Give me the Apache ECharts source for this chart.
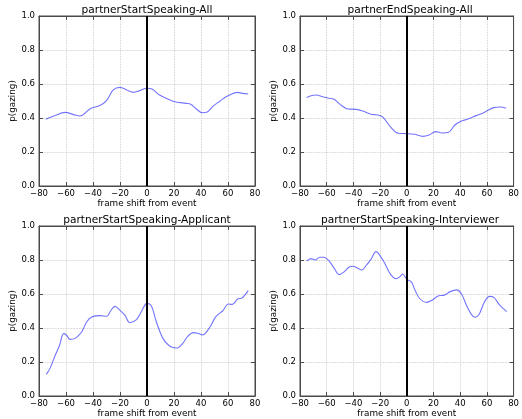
<!DOCTYPE html>
<html>
<head>
<meta charset="utf-8">
<script src="https://cdn.jsdelivr.net/npm/echarts@6/dist/echarts.min.js"></script>
<style>html,body{margin:0;padding:0;background:#fff}#c{width:522px;height:419px}</style>
</head>
<body>
<div id="c"></div>
<script>
var titles = ['partnerStartSpeaking-All','partnerEndSpeaking-All','partnerStartSpeaking-Applicant','partnerStartSpeaking-Interviewer'];
var xTicks = [-80,-60,-40,-20,0,20,40,60,80];
var yTicks = [0.0,0.2,0.4,0.6,0.8,1.0];

var x1 = [-75,-69,-60.5,-54.4,-49.5,-42,-35,-30,-25,-20,-15,-10,-5.4,0,4,9.3,15.4,21.6,29,32.6,36,41,45,48.5,53.4,59.6,67,70.6,75];
var y1 = [0.392,0.412,0.433,0.42,0.412,0.455,0.473,0.502,0.565,0.58,0.565,0.551,0.561,0.575,0.569,0.535,0.512,0.494,0.486,0.48,0.457,0.431,0.437,0.467,0.496,0.529,0.551,0.545,0.541];

var x2 = [-75,-71.8,-68,-63,-58.4,-54.8,-50,-43.9,-37.8,-33,-26.9,-22,-17.7,-12.4,-6.3,0,5.8,11.9,16.7,21.6,26.4,31.3,36,41,45.8,51.9,58,65,70,74.4];
var y2 = [0.52,0.531,0.535,0.525,0.516,0.512,0.48,0.453,0.451,0.441,0.422,0.418,0.404,0.349,0.31,0.308,0.304,0.292,0.3,0.32,0.312,0.316,0.359,0.382,0.394,0.414,0.433,0.461,0.465,0.457];

var x3 = [-74.5,-71.6,-67.9,-64.7,-61.8,-59.8,-56.9,-53.2,-48.3,-44.6,-40.9,-34.8,-29.9,-27,-23.8,-20,-16.4,-12.7,-7.8,-4.2,0,3.2,6.9,11.8,16.7,22,26.5,30,34.3,37.5,41,46,51,56,60.3,63.2,67,70.6,75];
var y3 = [0.127,0.167,0.241,0.3,0.367,0.359,0.333,0.339,0.378,0.437,0.465,0.473,0.469,0.5,0.527,0.504,0.476,0.431,0.449,0.496,0.545,0.531,0.437,0.339,0.294,0.282,0.31,0.349,0.373,0.369,0.359,0.398,0.467,0.5,0.541,0.539,0.569,0.578,0.62];

var x4 = [-75,-71.8,-68.6,-65.2,-62,-58.4,-54.8,-50.7,-47.5,-43.4,-40.2,-36.6,-33.7,-30.5,-26.9,-23,-19.6,-16.7,-12.4,-8,-5.1,-3.2,0,3.4,5.8,9.5,14.8,19.2,24,27.6,32.5,37.3,41,44.6,48.2,51.2,54.3,57.9,62,65.2,69.6,74.9];
var y4 = [0.794,0.808,0.8,0.816,0.816,0.796,0.757,0.714,0.727,0.757,0.763,0.751,0.741,0.767,0.804,0.849,0.82,0.784,0.718,0.69,0.702,0.718,0.686,0.671,0.629,0.575,0.551,0.565,0.59,0.592,0.614,0.624,0.6,0.535,0.482,0.463,0.482,0.549,0.586,0.58,0.535,0.496];

var XS = [x1,x2,x3,x4], YS = [y1,y2,y3,y4];
var FONT = 'DejaVu Sans';
var AX = '#4a4a4a';
var grids = [
  {left:39, top:16, width:216, height:170},
  {left:300, top:16, width:220, height:170},
  {left:39, top:226, width:216, height:170},
  {left:300, top:226, width:220, height:170}
];
function fmtX(v){ return v < 0 ? '\u2212' + (-v) : String(v); }
var option = {
  animation:false,
  backgroundColor:'#fff',
  title:[], grid:[], xAxis:[], yAxis:[], series:[]
};
grids.forEach(function(g,i){
  option.grid.push({left:g.left, top:g.top, width:g.width, height:g.height, show:true, borderColor:AX, borderWidth:1, containLabel:false});
  option.title.push({text:titles[i], left:g.left + g.width/2, top:g.top - 11, textAlign:'center', padding:0,
    textStyle:{fontFamily:FONT, fontSize:10.6, fontWeight:'normal', color:'#000'}});
  var tick = {show:true, inside:true, length:4, lineStyle:{color:AX, width:1}};
  var grid = {show:true, lineStyle:{type:'dotted', color:'#c4c4c4', width:0.8}};
  option.xAxis.push({type:'value', gridIndex:i, min:xTicks[0], max:xTicks[xTicks.length-1], interval:20, position:'bottom',
    name:'frame shift from event', nameLocation:'middle', nameGap:9,
    nameTextStyle:{fontFamily:FONT, fontSize:8.8, color:'#000'},
    axisLine:{show:true, onZero:false, lineStyle:{color:AX, width:1}}, axisTick:tick,
    axisLabel:{show:true, formatter:fmtX, fontFamily:FONT, fontSize:8.5, color:'#000', margin:3, interval:0, showMinLabel:true, showMaxLabel:true},
    splitLine:grid});
  option.xAxis.push({type:'value', gridIndex:i, min:xTicks[0], max:xTicks[xTicks.length-1], interval:20, position:'top',
    axisLine:{show:true, onZero:false, lineStyle:{color:AX}}, axisTick:tick, axisLabel:{show:false}, splitLine:{show:false}});
  option.yAxis.push({type:'value', gridIndex:i, min:yTicks[0], max:yTicks[yTicks.length-1], interval:0.2, position:'left',
    name:'p(gazing)', nameLocation:'middle', nameGap:14,
    nameTextStyle:{fontFamily:FONT, fontSize:8.8, color:'#000'},
    axisLine:{show:true, onZero:false, lineStyle:{color:AX, width:1}}, axisTick:tick,
    axisLabel:{show:true, formatter:function(v){return v.toFixed(1);}, fontFamily:FONT, fontSize:8.5, color:'#000', margin:4, showMinLabel:true, showMaxLabel:true},
    splitLine:grid});
  option.yAxis.push({type:'value', gridIndex:i, min:yTicks[0], max:yTicks[yTicks.length-1], interval:0.2, position:'right',
    axisLine:{show:true, onZero:false, lineStyle:{color:AX}}, axisTick:tick, axisLabel:{show:false}, splitLine:{show:false}});
  var data = XS[i].map(function(x,k){ return [x, YS[i][k]]; });
  option.series.push({type:'line', xAxisIndex:2*i, yAxisIndex:2*i, data:data, smooth:0.35, symbol:'none',
    lineStyle:{color:'rgba(0,0,255,0.55)', width:1.1},
    markLine:{silent:true, symbol:['none','none'], label:{show:false},
      lineStyle:{color:'#000', width:2, type:'solid'}, data:[{xAxis:0}]}});
});
var chart = echarts.init(document.getElementById('c'), null, {renderer:'canvas'});
chart.setOption(option);
</script>
</body>
</html>
